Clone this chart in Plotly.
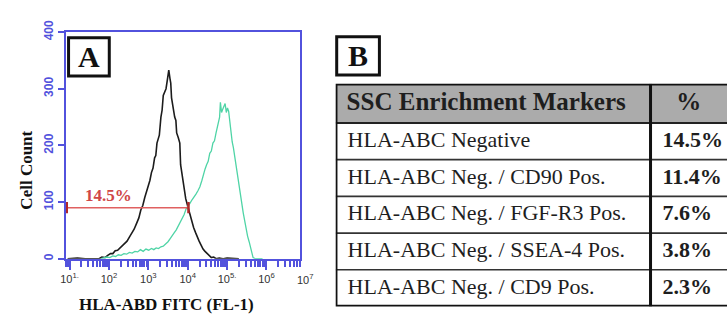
import plotly.graph_objects as go

# ---------------- data: panel A (flow histogram) ----------------
# x given as log10(FITC intensity), y = cell count
black_exp = [0.95, 1.20, 1.40, 1.60, 1.68, 1.75, 1.82, 1.90, 1.97, 2.04, 2.10, 2.16, 2.22, 2.28, 2.34,
             2.40, 2.46, 2.52, 2.58, 2.64, 2.70, 2.76, 2.81, 2.86, 2.91, 2.95, 3.00, 3.04, 3.08,
             3.12, 3.16, 3.19, 3.22, 3.25, 3.28, 3.32, 3.35, 3.38, 3.42, 3.45, 3.48, 3.52, 3.55,
             3.57, 3.59, 3.62, 3.64, 3.67, 3.70, 3.72, 3.76, 3.80, 3.82, 3.85, 3.88, 3.91, 3.95,
             4.00, 4.04, 4.07, 4.11, 4.15, 4.20, 4.24, 4.29, 4.34, 4.39, 4.44, 4.49, 4.54, 4.60,
             4.66, 4.72, 4.80, 4.90, 5.00, 5.30]
black_count = [0, 1, 0, 0, 1, 0, 3, 2, 6, 9, 9, 14, 15, 19, 22,
               27, 31, 38, 44, 52, 62, 72, 86, 94, 108, 116, 128, 138, 152,
               160, 178, 182, 204, 210, 218, 250, 262, 288, 294, 300, 314, 333, 318,
               310, 284, 270, 258, 250, 244, 222, 214, 204, 166, 150, 134, 118, 106,
               93, 82, 74, 62, 55, 46, 38, 31, 24, 17, 13, 9, 5, 2,
               3, 0, 1, 0, 1, 0]

green_exp = [1.80, 1.88, 1.95, 2.02, 2.10, 2.17, 2.24, 2.31, 2.38, 2.45, 2.52, 2.59, 2.66, 2.73,
             2.80, 2.87, 2.94, 3.01, 3.08, 3.14, 3.20, 3.26, 3.32, 3.38, 3.44, 3.50, 3.56, 3.61,
             3.66, 3.71, 3.76, 3.81, 3.86, 3.91, 3.96, 4.01, 4.06, 4.11, 4.16, 4.21, 4.26, 4.31,
             4.36, 4.40, 4.44, 4.48, 4.52, 4.56, 4.60, 4.64, 4.68, 4.72, 4.75, 4.78, 4.81, 4.83,
             4.86, 4.89, 4.92, 4.95, 4.98, 5.01, 5.04, 5.07, 5.10, 5.13, 5.16, 5.19, 5.22, 5.25,
             5.29, 5.33, 5.37, 5.41, 5.45, 5.48, 5.52, 5.56, 5.60, 5.63, 5.66, 5.72, 5.90]
green_count = [0, 1, 3, 2, 5, 4, 7, 6, 9, 8, 11, 10, 13, 12,
               16, 13, 17, 15, 18, 16, 19, 18, 21, 22, 26, 30, 36, 40,
               46, 51, 58, 64, 70, 78, 88, 92, 98, 104, 108, 114, 120, 127,
               138, 150, 158, 166, 172, 186, 190, 204, 208, 222, 230, 242, 250, 276,
               258, 264, 268, 274, 258, 266, 260, 240, 220, 206, 196, 182, 164, 148,
               128, 110, 96, 81, 66, 52, 40, 30, 20, 10, 2, 0, 0]

gate_exp = [0.93, 4.02]
gate_count = 90
gate_label = "14.5%"

x_tick_exp = [1, 2, 3, 4, 5, 6, 7]
x_tick_text = ["10<sup>1.</sup>", "10<sup>2</sup>", "10<sup>3</sup>", "10<sup>4</sup>",
               "10<sup>5.</sup>", "10<sup>6</sup>", "10<sup>7</sup>"]
y_ticks = [0, 100, 200, 300, 400]

# ---------------- data: panel B (table) ----------------
table_header = ["SSC Enrichment Markers", "%"]
markers = ["HLA-ABC Negative", "HLA-ABC Neg. / CD90 Pos.", "HLA-ABC Neg. / FGF-R3 Pos.",
           "HLA-ABC Neg. / SSEA-4 Pos.", "HLA-ABC Neg. / CD9 Pos."]
percents = ["14.5%", "11.4%", "7.6%", "3.8%", "2.3%"]

# ---------------- styling ----------------
W, H = 727, 320
BLUE = "#5252dd"
SERIF = "Liberation Serif"
SANS = "Liberation Sans"

def px(x):
    return x / W

def py(y):
    return 1 - y / H

fig = go.Figure()

fig.add_trace(go.Scatter(x=[10 ** e for e in black_exp], y=black_count, mode="lines",
                         line=dict(color="#1c1c1c", width=1.6), xaxis="x", yaxis="y",
                         hoverinfo="skip", showlegend=False))
fig.add_trace(go.Scatter(x=[10 ** e for e in green_exp], y=green_count, mode="lines",
                         line=dict(color="#4fd4a6", width=1.3), xaxis="x", yaxis="y",
                         hoverinfo="skip", showlegend=False))
# gate
fig.add_trace(go.Scatter(x=[10 ** e for e in gate_exp], y=[gate_count, gate_count],
                         mode="lines+markers",
                         line=dict(color="#e06060", width=1.4),
                         marker=dict(symbol="line-ns", size=8,
                                     line=dict(color="#b02828", width=2.5)),
                         xaxis="x", yaxis="y", hoverinfo="skip", showlegend=False))

# ---------------- table as text trace on its own axes ----------------
tab_left, tab_right, tab_top, tab_bot = 333, 727, 75, 308
col_w = [317, 77]
head_h = 41
row_h = (tab_bot - tab_top - head_h) / len(markers)
row_centers = [head_h + row_h * (i + 0.5) for i in range(len(markers))]
tw = col_w[0] + col_w[1] + 5

fig.add_trace(go.Scatter(x=[12] * len(markers), y=row_centers, text=markers, mode="text",
                         textposition="middle right",
                         textfont=dict(family=SERIF, size=22, color="#1e1e1e"),
                         xaxis="x2", yaxis="y2", hoverinfo="skip", showlegend=False))
fig.add_trace(go.Scatter(x=[col_w[0] + 12] * len(percents), y=row_centers, text=percents,
                         mode="text", textposition="middle right",
                         textfont=dict(family=SERIF, size=22, color="#1e1e1e", weight="bold"),
                         xaxis="x2", yaxis="y2", hoverinfo="skip", showlegend=False))
fig.add_trace(go.Scatter(x=[11, col_w[0] + col_w[1] / 2], y=[head_h / 2, head_h / 2],
                         text=table_header, mode="text",
                         textposition=["middle right", "middle center"],
                         textfont=dict(family=SERIF, size=25, color="#1e1e1e", weight="bold"),
                         xaxis="x2", yaxis="y2", hoverinfo="skip", showlegend=False))

shapes = []
shapes.append(dict(type="rect", xref="x2", yref="y2", x0=0, x1=tw,
                   y0=0, y1=head_h, fillcolor="#ababab", line=dict(width=0), layer="below"))
for i in range(1, len(markers)):
    yb = head_h + row_h * i
    shapes.append(dict(type="line", xref="x2", yref="y2", x0=0, x1=tw,
                       y0=yb, y1=yb, line=dict(color="#333333", width=1.6)))
shapes.append(dict(type="line", xref="x2", yref="y2", x0=0, x1=tw,
                   y0=head_h, y1=head_h, line=dict(color="#222222", width=2)))
shapes.append(dict(type="line", xref="x2", yref="y2", x0=col_w[0], x1=col_w[0],
                   y0=0, y1=tab_bot - tab_top, line=dict(color="#111111", width=3)))
shapes.append(dict(type="rect", xref="x2", yref="y2", x0=0, x1=tw,
                   y0=0, y1=tab_bot - tab_top, line=dict(color="#111111", width=3.5)))

# panel letter boxes
shapes.append(dict(type="rect", xref="paper", yref="paper", x0=px(64), x1=px(105),
                   y0=py(67), y1=py(27), line=dict(color="#111111", width=3)))
shapes.append(dict(type="rect", xref="paper", yref="paper", x0=px(334), x1=px(377),
                   y0=py(66), y1=py(26), line=dict(color="#111111", width=3)))

def ann(text, x, y, size, color="#111111", family=SERIF, angle=0, xref="paper", yref="paper"):
    return dict(text=text, x=x, y=y, xref=xref, yref=yref, showarrow=False,
                xanchor="center", yanchor="middle", textangle=angle,
                font=dict(family=family, size=size, color=color))

annotations = [
    ann("<b>A</b>", px(84.5), py(47), 30),
    ann("<b>B</b>", px(355.5), py(46), 30),
    ann("<b>Cell Count</b>", px(22), py(165), 17, angle=-90),
    ann("<b>HLA-ABD FITC (FL-1)</b>", px(163), py(306), 17),
    ann("<b>" + gate_label + "</b>", 1.98, 112, 17, color="#d04646", xref="x", yref="y"),
    ann(x_tick_text[-1], px(303), py(279), 11, color="#333333", family=SANS),
]

fig.update_layout(
    width=W, height=H, margin=dict(l=0, r=0, t=0, b=0),
    paper_bgcolor="white", plot_bgcolor="white",
    shapes=shapes, annotations=annotations, showlegend=False,
    xaxis=dict(type="log", domain=[px(61), px(297)], range=[0.9, 6.85],
               tickvals=[10 ** e for e in x_tick_exp], ticktext=x_tick_text,
               tickfont=dict(family=SANS, size=11, color="#333333"),
               ticks="outside", ticklen=9, tickwidth=2, tickcolor=BLUE,
               showline=True, linecolor=BLUE, linewidth=2, mirror=True,
               showgrid=False, zeroline=False,
               minor=dict(ticks="outside", ticklen=6, tickwidth=1.5, tickcolor=BLUE,
                          dtick="D1", showgrid=False),
               anchor="y"),
    yaxis=dict(domain=[py(258), py(21)], range=[0, 400], tickvals=y_ticks,
               tickangle=-90,
               tickfont=dict(family=SANS, size=12, color=BLUE, weight="bold"),
               ticks="outside", ticklen=6, tickwidth=2, tickcolor=BLUE,
               showline=True, linecolor=BLUE, linewidth=2, mirror=True,
               showgrid=False, zeroline=False, anchor="x"),
    xaxis2=dict(domain=[px(tab_left), px(tab_right)], range=[0, tab_right - tab_left],
                visible=False, anchor="y2"),
    yaxis2=dict(domain=[py(tab_bot), py(tab_top)], range=[tab_bot - tab_top, 0],
                visible=False, anchor="x2"),
)

fig.write_html("out.html", config={"displayModeBar": False},
               post_script="document.body.style.margin='0px';document.body.style.padding='0px';")
